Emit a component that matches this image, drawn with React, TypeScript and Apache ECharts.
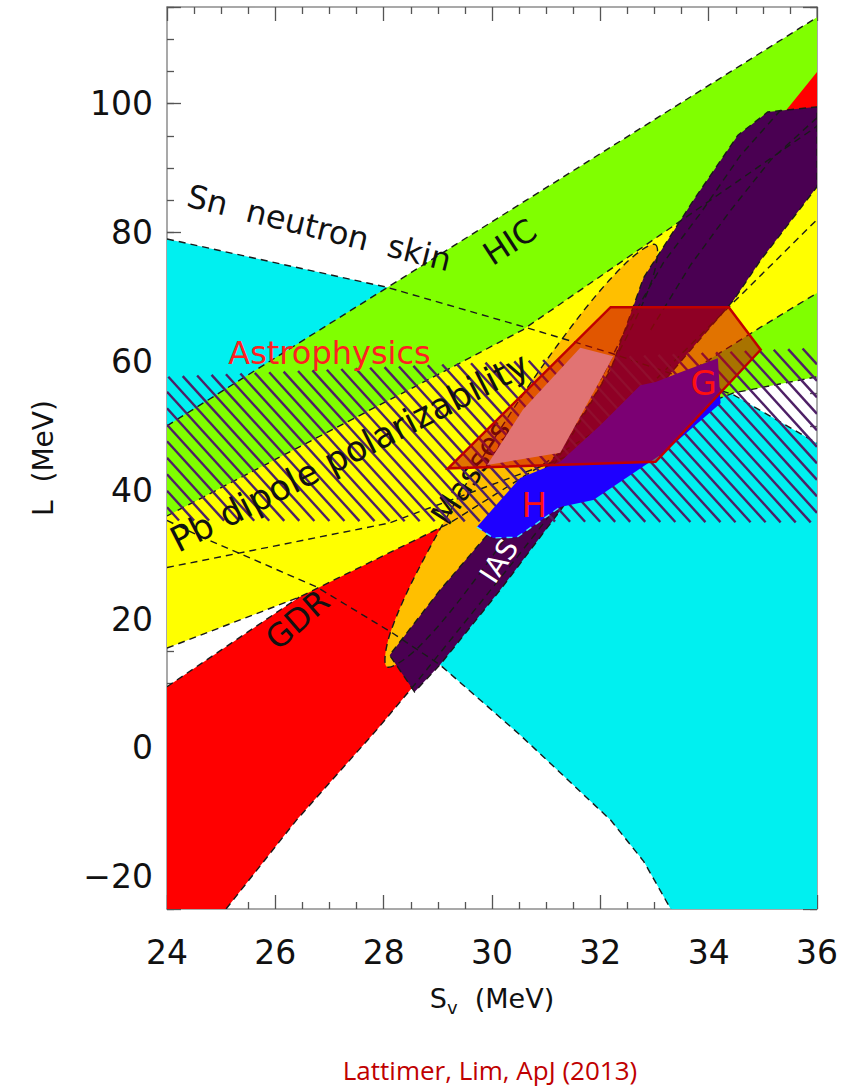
import React, { useEffect, useRef } from "react";
import * as echarts from "echarts";

// ---------- axes ----------
const xMin = 24;
const xMax = 36;
const xStep = 2;
const yMin = -25;
const yMax = 115;
const yMinorStep = 5;
const yLabelValues = [-20, 0, 20, 40, 60, 80, 100];

// ---------- constraint regions (S_v, L) ----------
// HIC (cyan) bounding curves
const hicUpper = [[24, 79.0], [28.06, 71.5], [30.65, 65.2], [32.19, 61.3], [34.46, 54.8], [36, 47.3]];
const hicLower = [[24, 35.3], [24.65, 32.7], [26.76, 25.0], [28.17, 17.8], [29.04, 12.9], [30.52, 2.0], [32.19, -11.2], [32.8, -17.6], [33.3, -25]];
// Sn neutron skin (green)
const skinUpper = [[24, 50.0], [30.65, 85.1], [36, 113.4]];
const skinLower = [[24, 28.0], [28.1, 34.9], [31, 44.0], [34.46, 55.1], [36, 57.6]];
// Pb dipole polarizability (yellow)
const dipoleUpper = [[24, 36.0], [29.4, 59.7], [30.57, 64.9], [33.43, 81.5], [36, 96.5]];
const dipoleLower = [[24, 15.5], [26.44, 23.4], [29.22, 34.9], [34.96, 65.3], [36, 70.6]];
// GDR (red)
const gdrUpper = [[24, 9.5], [26.44, 23.4], [29, 42], [32, 67], [33.7, 82], [35.46, 99.3], [36, 104.9]];
const gdrLower = [[25.09, -25], [26.39, -11.2], [27.87, 2.8], [28.54, 9.5], [30.5, 30], [33, 57], [36, 82]];
// Masses (orange ellipse outline)
const masses = [[33.02, 78.1], [32.94, 72.3], [32.21, 59.4], [31.04, 42.6], [29.73, 26.6], [28.64, 15.6], [28.06, 12.6], [28.14, 18.3], [28.86, 31.2], [30.04, 48.0], [31.34, 64.0], [32.44, 75.0]];
// IAS (dark purple)
const ias = [[28.57, 8.7], [28.11, 14.4], [29.04, 24.5], [30.15, 35.4], [31.26, 46.2], [32.19, 58.7], [32.8, 73.0], [33.72, 85.0], [34.54, 95.1], [35.09, 98.7], [36, 99.5], [36, 87.1], [34.96, 75.7], [34.46, 69.5], [33.67, 61.8], [32.56, 50.9], [31.63, 41.6], [31.31, 37.4], [30.15, 24.5], [29.04, 12.9]];
const iasInner1 = [[35.33, 99.0], [34.59, 92.0], [33.85, 83.0], [33.17, 75.4], [32.56, 66.4], [32.0, 57.1]];
const iasInner2 = [[36, 97.8], [35.15, 91.3], [34.41, 83.5], [33.67, 75.0], [32.93, 64.9]];
// Astrophysics (hatched band)
const astroTop = [[24, 57.6], [36, 62.1]];
const astroBottom = [[24, 35.3], [36, 35.0]];
// H & G (blue)
const blueRegion = [[29.72, 34.3], [30.52, 41.9], [31.26, 44.4], [32.0, 50.1], [32.74, 56.3], [33.02, 56.8], [33.48, 58.3], [34.17, 60.5], [34.22, 53.5], [33.17, 45.8], [31.87, 38.5], [31.26, 37.4], [30.46, 32.7], [30.02, 32.6]];
const blueLowerEdge = [[29.72, 34.3], [30.02, 32.6], [30.46, 32.7], [31.26, 37.4]];
// White (overlap) region
const whiteRegion = [[29.91, 43.9], [30.57, 52.5], [31.63, 62.1], [32.24, 60.8], [31.26, 45.8]];
// Red outlined pentagon
const hexRegion = [[29.19, 43.4], [32.19, 68.4], [34.37, 68.4], [34.96, 61.8], [33.02, 44.4]];

// ---------- labels ----------
const labelTexts = ["Sn  neutron  skin", "HIC", "Astrophysics", "Pb dipole polarizability", "GDR", "IAS", "H", "G"];
const labelAnchors = [[26.81, 80.7], [30.33, 78.5], [27.0, 61.3], [27.37, 45.9], [26.41, 19.9], [30.13, 29.0], [30.78, 37.7], [33.91, 56.6]];
const massesLabel = "Masses";
const massesAnchor = [29.61, 42.8];

const FONT = "DejaVu Sans";

function fillSeries(pts: number[][], fill: string, extra: any = {}) {
  return {
    type: "custom",
    coordinateSystem: "cartesian2d",
    silent: true,
    clip: true,
    data: [pts[0]],
    renderItem: (_p: any, api: any) => ({
      type: "polygon",
      shape: { points: pts.map((p) => api.coord(p)), smooth: extra.smooth || 0 },
      style: { fill, stroke: extra.stroke || "none", lineWidth: extra.lineWidth || 0 },
    }),
  };
}

export default function App() {
  const ref = useRef<HTMLDivElement>(null);

  useEffect(() => {
    if (!ref.current) return;
    const chart = echarts.init(ref.current, undefined, { renderer: "svg" });

    const dashed: { pts: number[][]; closed?: boolean; smooth?: number }[] = [
      { pts: hicUpper },
      { pts: hicLower },
      { pts: skinUpper },
      { pts: skinLower },
      { pts: dipoleUpper },
      { pts: dipoleLower },
      { pts: gdrUpper.slice(0, 2) },
      { pts: gdrLower },
      { pts: masses, closed: true, smooth: 0.35 },
      { pts: ias, closed: true },
      { pts: iasInner1 },
      { pts: iasInner2 },
    ];

    const labelStyle = [
      { size: 32, color: "#111", rot: -14 },
      { size: 32, color: "#111", rot: 33 },
      { size: 32, color: "#ff2020", rot: 0 },
      { size: 35, color: "#111", rot: 27 },
      { size: 32, color: "#111", rot: 41 },
      { size: 28, color: "#ffffff", rot: 57 },
      { size: 34, color: "#ff1010", rot: 0 },
      { size: 34, color: "#ff1010", rot: 0 },
    ];

    const axisLineStyle = { color: "#8c8c8c", width: 1.5 };
    const tickStyle = { color: "#555", width: 1.3 };

    const xAxisBase = {
      type: "value",
      min: xMin,
      max: xMax,
      interval: xStep,
      axisLine: { show: true, onZero: false, lineStyle: axisLineStyle },
      axisTick: { show: true, inside: true, length: 14, lineStyle: tickStyle },
      minorTick: { show: true, splitNumber: 4, length: 7, lineStyle: tickStyle },
      splitLine: { show: false },
      minorSplitLine: { show: false },
    };

    const yMinor = {
      type: "value",
      min: yMin,
      max: yMax,
      interval: yMinorStep,
      axisLine: { show: true, onZero: false, lineStyle: axisLineStyle },
      axisTick: { show: true, inside: true, length: 7, lineStyle: tickStyle },
      splitLine: { show: false },
    };
    const yMajor = {
      type: "value",
      min: yMin,
      max: yMax,
      splitNumber: 7,
      axisLine: { show: false },
      axisTick: { show: true, inside: true, length: 14, lineStyle: tickStyle },
      axisLabel: { show: false },
      splitLine: { show: false },
    };

    const option: any = {
      animation: false,
      backgroundColor: "#ffffff",
      grid: { left: 167, right: 40, top: 7, bottom: 183 },
      xAxis: [
        {
          ...xAxisBase,
          position: "bottom",
          axisLabel: { fontSize: 33, color: "#111", fontFamily: FONT, margin: 27 },
          name: "{s|S}{v|v}{s|  (MeV)}",
          nameLocation: "middle",
          nameGap: 76,
          nameTextStyle: {
            color: "#111",
            fontFamily: FONT,
            fontSize: 27,
            rich: {
              s: { fontSize: 27, fontFamily: FONT, color: "#111", lineHeight: 30, verticalAlign: "top" },
              v: { fontSize: 18, fontFamily: FONT, color: "#111", lineHeight: 31, verticalAlign: "bottom" },
            },
          },
        },
        { ...xAxisBase, position: "top", axisLabel: { show: false } },
      ],
      yAxis: [
        {
          ...yMinor,
          position: "left",
          axisLabel: {
            fontSize: 33,
            color: "#111",
            fontFamily: FONT,
            margin: 14,
            formatter: (v: number) =>
              yLabelValues.indexOf(v) >= 0 ? (v < 0 ? "\u2212" + String(-v) : String(v)) : "",
          },
          name: "L  (MeV)",
          nameLocation: "middle",
          nameGap: 110,
          nameTextStyle: { fontSize: 28, color: "#111", fontFamily: FONT },
        },
        { ...yMinor, position: "right", axisLabel: { show: false } },
        { ...yMajor, position: "left" },
        { ...yMajor, position: "right" },
      ],
      graphic: [
        {
          type: "text",
          x: 490,
          y: 1070,
          style: {
            text: "Lattimer, Lim, ApJ (2013)",
            fill: "#c00000",
            fontSize: 26,
            fontFamily: "Open Sans",
            align: "center",
            verticalAlign: "middle",
          },
        },
      ],
      series: [
        fillSeries([...hicUpper, [36, -25], ...hicLower.slice().reverse()], "#00f0f0"),
        fillSeries([...skinUpper, ...skinLower.slice().reverse()], "#80ff00"),
        fillSeries([...gdrUpper, ...gdrLower.slice().reverse(), [24, -25]], "#ff0000"),
        fillSeries([...dipoleUpper, ...dipoleLower.slice().reverse()], "#ffff00"),
        fillSeries(masses, "#ffbf00", { smooth: 0.35 }),
        fillSeries(ias, "#4a0052"),
        {
          type: "custom",
          coordinateSystem: "cartesian2d",
          silent: true,
          clip: true,
          data: dashed.map((d) => d.pts[0]),
          renderItem: (params: any, api: any) => {
            const d = dashed[params.dataIndex];
            return {
              type: d.closed ? "polygon" : "polyline",
              shape: { points: d.pts.map((p) => api.coord(p)), smooth: d.smooth || 0 },
              style: { fill: "none", stroke: "#1a1a1a", lineWidth: 1.4, lineDash: [7, 5] },
            };
          },
        },
        {
          type: "custom",
          coordinateSystem: "cartesian2d",
          silent: true,
          data: [massesAnchor],
          renderItem: (_p: any, api: any) => {
            const c = api.coord([api.value(0), api.value(1)]);
            return {
              type: "text",
              x: c[0],
              y: c[1],
              rotation: (57 * Math.PI) / 180,
              style: { text: massesLabel, fill: "#111", fontSize: 32, fontFamily: FONT, align: "center", verticalAlign: "middle" },
            };
          },
        },
        {
          type: "custom",
          coordinateSystem: "cartesian2d",
          silent: true,
          clip: true,
          data: [astroTop[0]],
          renderItem: (_p: any, api: any) => {
            const tl = api.coord(astroTop[0]);
            const tr = api.coord(astroTop[1]);
            const bl = api.coord(astroBottom[0]);
            const br = api.coord(astroBottom[1]);
            const xL = tl[0];
            const xR = tr[0];
            const mT = (tr[1] - tl[1]) / (xR - xL);
            const mB = (br[1] - bl[1]) / (xR - xL);
            const k = 1.1;
            const gap = 15;
            const cMin = Math.min(tl[1], tr[1]) - k * xR;
            const cMax = Math.max(bl[1], br[1]) - k * xL;
            const children: any[] = [];
            for (let c = cMin; c <= cMax; c += gap * k) {
              const xTop = (c - tl[1] + mT * xL) / (mT - k);
              const xBot = (c - bl[1] + mB * xL) / (mB - k);
              const x1 = Math.max(Math.min(xTop, xBot), xL);
              const x2 = Math.min(Math.max(xTop, xBot), xR);
              if (x2 > x1) {
                children.push({
                  type: "line",
                  shape: { x1, y1: k * x1 + c, x2, y2: k * x2 + c },
                  style: { stroke: "#4e1f66", lineWidth: 2.4 },
                });
              }
            }
            return { type: "group", children };
          },
        },
        fillSeries(blueRegion, "#1e00ff"),
        {
          type: "custom",
          coordinateSystem: "cartesian2d",
          silent: true,
          data: [blueLowerEdge[0]],
          renderItem: (_p: any, api: any) => ({
            type: "polyline",
            shape: { points: blueLowerEdge.map((p) => api.coord(p)) },
            style: { fill: "none", stroke: "#40e8ff", lineWidth: 1.4, lineDash: [6, 5] },
          }),
        },
        fillSeries(whiteRegion, "#ffffff"),
        fillSeries(hexRegion, "rgba(200,0,0,0.55)", { stroke: "#c00000", lineWidth: 2.5 }),
        {
          type: "custom",
          coordinateSystem: "cartesian2d",
          silent: true,
          data: labelAnchors,
          renderItem: (params: any, api: any) => {
            const c = api.coord([api.value(0), api.value(1)]);
            const st = labelStyle[params.dataIndex];
            return {
              type: "text",
              x: c[0],
              y: c[1],
              rotation: (st.rot * Math.PI) / 180,
              style: {
                text: labelTexts[params.dataIndex],
                fill: st.color,
                fontSize: st.size,
                fontFamily: FONT,
                align: "center",
                verticalAlign: "middle",
              },
            };
          },
        },
      ],
    };

    chart.setOption(option);
    return () => chart.dispose();
  }, []);

  return <div ref={ref} style={{ position: "absolute", left: 0, top: 0, width: 857, height: 1092 }} />;
}
